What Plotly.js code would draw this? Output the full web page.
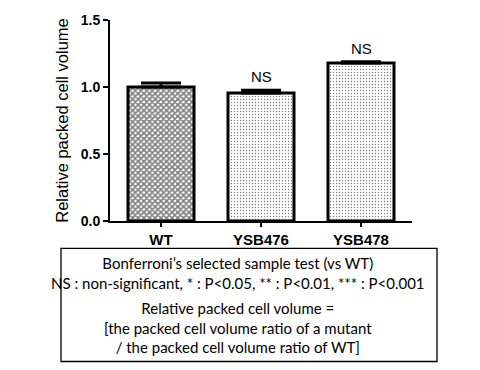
<!DOCTYPE html>
<html>
<head>
<meta charset="utf-8">
<script src="https://cdn.plot.ly/plotly-3.0.1.min.js"></script>
<style>html,body{margin:0;padding:0;background:#fff;}#chart{width:480px;height:370px;}</style>
</head>
<body>
<div id="chart"></div>
<script>
const categories = ["WT", "YSB476", "YSB478"];
const values = [1.0, 0.955, 1.18];
const errors = [0.03, 0.02, 0.008];
const significance = ["", "NS", "NS"];
const yTicks = [0, 0.5, 1.0, 1.5];
const yTickLabels = ["0.0", "0.5", "1.0", "1.5"];
const noteLines1 = ["Bonferroni\u2019s selected sample test (vs WT)", "NS : non-significant, * : P<0.05, ** : P<0.01, *** : P<0.001"];
const noteLines2 = ["Relative packed cell volume =", "[the packed cell volume ratio of a mutant", "/ the packed cell volume ratio of WT]"];

const W = 480, H = 370;
const mL = 110, mR = 68, mT = 20, mB = 149.3;
const pw = W - mL - mR, ph = H - mT - mB;
const px = x => (x - mL) / pw;
const py = y => (H - mB - y) / ph;

const patterns = [
  {shape: "x", size: 4, solidity: 0.65, fgcolor: "#000", bgcolor: "#fff", fillmode: "overlay"},
  {shape: ".", size: 3, solidity: 0.17, fgcolor: "#000", bgcolor: "#fff", fillmode: "overlay"},
  {shape: ".", size: 3, solidity: 0.17, fgcolor: "#000", bgcolor: "#fff", fillmode: "overlay"}
];

const traces = categories.map((c, i) => ({
  type: "bar",
  x: [c],
  y: [values[i]],
  width: 0.66,
  marker: {color: "#fff", pattern: patterns[i], line: {color: "#000", width: 3}},
  error_y: {type: "data", symmetric: false, array: [errors[i]], arrayminus: [0], visible: true, color: "#000", thickness: 3, width: 20},
  showlegend: false,
  hoverinfo: "skip"
}));

const annotations = [];
categories.forEach((c, i) => {
  if (significance[i]) {
    annotations.push({x: c, y: values[i] + errors[i], xref: "x", yref: "y", text: significance[i],
      showarrow: false, yanchor: "bottom", yshift: 3,
      font: {family: "Liberation Sans, Arial", size: 15, color: "#000"}});
  }
});
const noteFont = {family: "Lato, Carlito, sans-serif", size: 15, color: "#000"};
annotations.push({x: px(238), y: py(273), xref: "paper", yref: "paper", text: noteLines1.join("<br>"),
  showarrow: false, xanchor: "center", yanchor: "middle", font: noteFont});
annotations.push({x: px(238), y: py(327), xref: "paper", yref: "paper", text: noteLines2.join("<br>"),
  showarrow: false, xanchor: "center", yanchor: "middle", font: noteFont});

const layout = {
  width: W, height: H,
  margin: {l: mL, r: mR, t: mT, b: mB, pad: 0},
  paper_bgcolor: "#fff", plot_bgcolor: "#fff",
  bargap: 0,
  xaxis: {
    type: "category", range: [-0.51, 2.51],
    showline: true, linecolor: "#000", linewidth: 2,
    ticks: "outside", ticklen: 4, tickwidth: 1.5, tickcolor: "#000",
    showgrid: false, zeroline: false,
    tickfont: {family: "Liberation Sans, Arial", size: 15, color: "#000", weight: "bold"}
  },
  yaxis: {
    range: [0, 1.5], tickvals: yTicks, ticktext: yTickLabels,
    showline: true, linecolor: "#000", linewidth: 2,
    ticks: "outside", ticklen: 5, tickwidth: 2, tickcolor: "#000",
    showgrid: false, zeroline: false,
    tickfont: {family: "Liberation Sans, Arial", size: 14, color: "#000", weight: "bold"},
    title: {text: "Relative packed cell volume", font: {family: "Liberation Sans, Arial", size: 16.5, color: "#000"}, standoff: 8}
  },
  shapes: [{type: "rect", xref: "paper", yref: "paper", x0: px(61), x1: px(437), y0: py(361), y1: py(248),
    line: {color: "#000", width: 1.3}, fillcolor: "rgba(0,0,0,0)"}],
  annotations: annotations
};

Plotly.newPlot("chart", traces, layout, {staticPlot: true, displayModeBar: false});
</script>
</body>
</html>
